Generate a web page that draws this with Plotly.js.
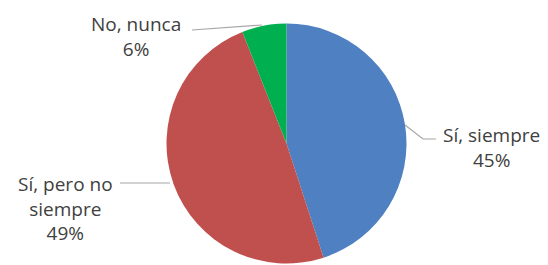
<!DOCTYPE html>
<html>
<head>
<meta charset="utf-8">
<script src="https://cdn.plot.ly/plotly-3.0.1.min.js"></script>
<style>html,body{margin:0;padding:0;background:#fff;}#chart{width:548px;height:265px;}</style>
</head>
<body>
<div id="chart"></div>
<script>
// Data
const categories = ['Sí, siempre', 'Sí, pero no siempre', 'No, nunca'];
const labelLines = [['Sí, siempre'], ['Sí, pero no', 'siempre'], ['No, nunca']];
const percentages = [45, 49, 6];
const sliceColors = ['#4f80c1', '#c0504d', '#00b050'];

const W = 548, H = 265;
const px = x => x / W;
const py = y => 1 - y / H;

// label anchor positions (pixels) and leader line paths
const labelPos = [[491, 147], [65, 208], [136, 37]];
const leaders = [
  [[405, 125], [423, 139], [436, 139]],
  [[170, 183], [120, 183]],
  [[262, 25], [192, 30]]
];

const trace = {
  type: 'pie',
  labels: categories,
  values: percentages,
  sort: false,
  direction: 'clockwise',
  rotation: 0,
  textinfo: 'none',
  hoverinfo: 'label+percent',
  marker: {colors: sliceColors, line: {width: 0}},
  domain: {x: [166.5 / W, 406.5 / W], y: [py(263.5), py(23.5)]},
  showlegend: false
};

const annotations = categories.map((c, i) => ({
  xref: 'paper', yref: 'paper',
  x: px(labelPos[i][0]), y: py(labelPos[i][1]),
  xanchor: 'center', yanchor: 'middle',
  text: labelLines[i].concat([percentages[i] + '%']).join('<br>'),
  showarrow: false,
  align: 'center',
  font: {family: 'Open Sans, sans-serif', size: 19, color: '#404040'}
}));

const shapes = leaders.map(pts => ({
  type: 'path',
  xref: 'paper', yref: 'paper',
  path: pts.map((p, j) => (j ? 'L' : 'M') + px(p[0]) + ',' + py(p[1])).join(' '),
  line: {color: '#a6a6a6', width: 1.2}
}));

Plotly.newPlot('chart', [trace], {
  width: W, height: H,
  margin: {l: 0, r: 0, t: 0, b: 0},
  paper_bgcolor: '#ffffff',
  annotations: annotations,
  shapes: shapes
}, {staticPlot: true});
</script>
</body>
</html>
